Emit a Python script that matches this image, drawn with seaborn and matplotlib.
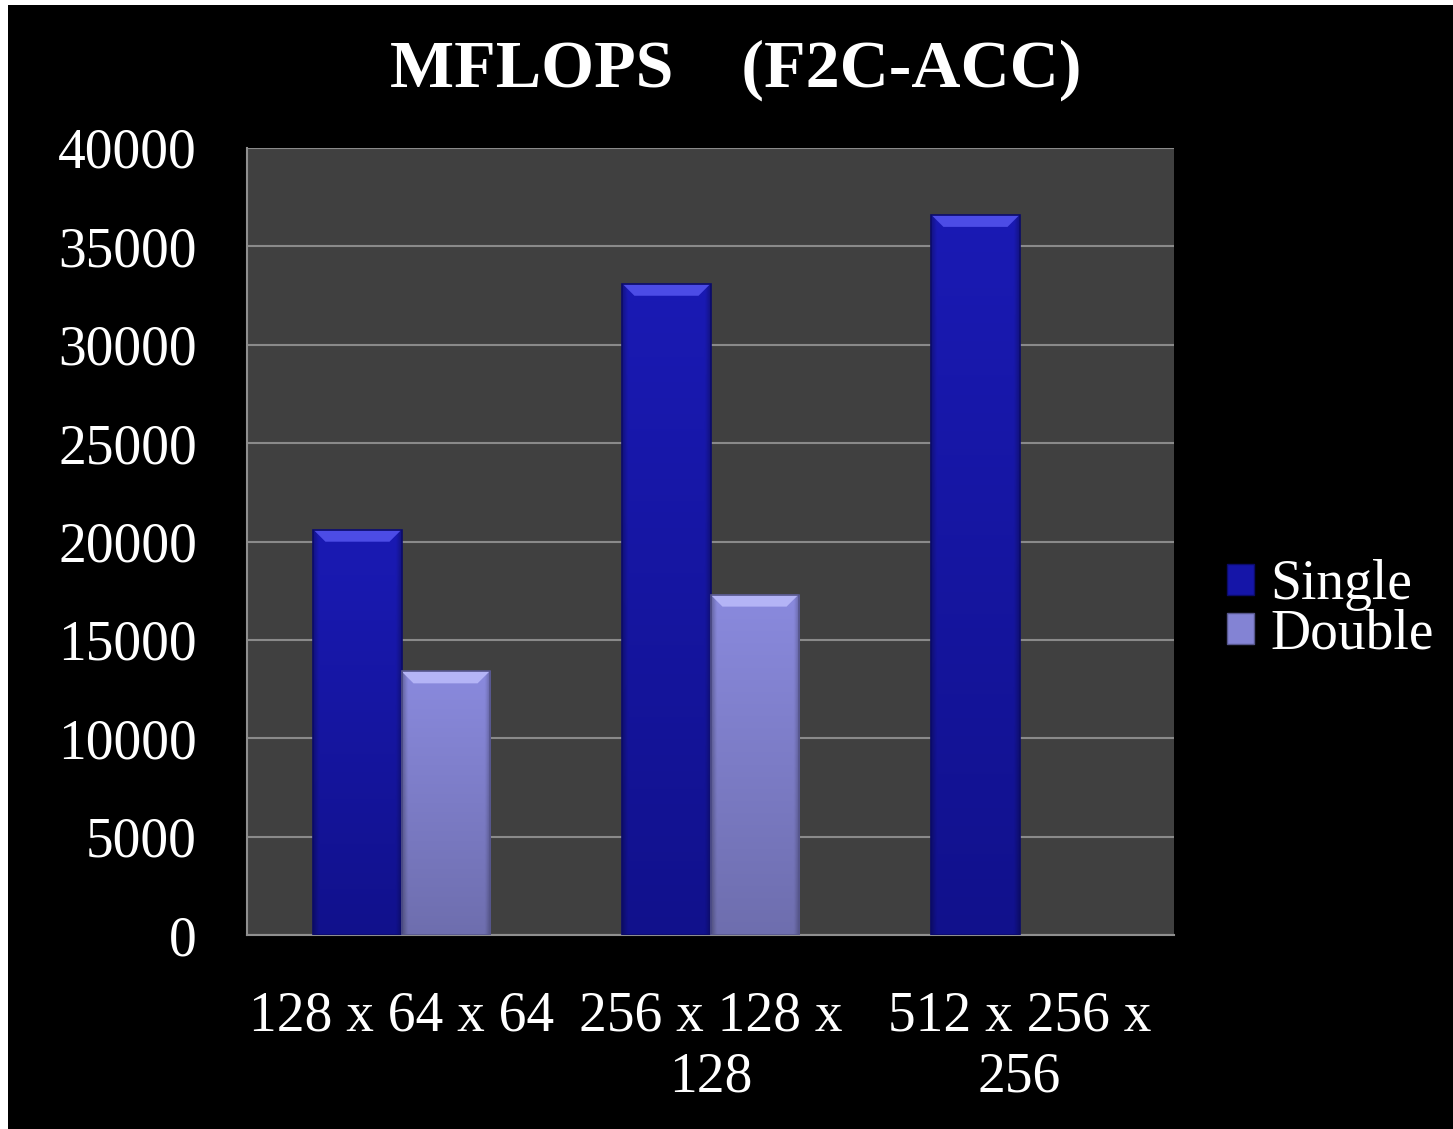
import numpy as np
import pandas as pd
import matplotlib
matplotlib.use("Agg")
import matplotlib.pyplot as plt
from matplotlib.patches import Rectangle, Polygon, Patch
import matplotlib.colors as mcolors
import seaborn as sns

# Data
categories = ["128 x 64 x 64", "256 x 128 x\n128", "512 x 256 x\n256"]
single = [20600, 33100, 36600]
double = [13400, 17300, None]
series = ["Single", "Double"]
yticks = [0, 5000, 10000, 15000, 20000, 25000, 30000, 35000, 40000]

rows = []
for cat, s, d in zip(categories, single, double):
    rows.append({"size": cat, "precision": "Single", "mflops": s})
    if d is not None:
        rows.append({"size": cat, "precision": "Double", "mflops": d})
df = pd.DataFrame(rows)

sns.set_theme(style="dark")
plt.rcParams["font.family"] = ["Liberation Serif", "DejaVu Serif"]

W, H, DPI = 14.53, 11.29, 100
fig = plt.figure(figsize=(W, H), dpi=DPI, facecolor="white")
# black slide background with thin white margin on the left/top
fig.patches.append(Rectangle((8 / 1453, 0), 1, 1124 / 1129, transform=fig.transFigure,
                             facecolor="black", edgecolor="none", zorder=-10))

ax = fig.add_axes([247 / 1453, 194 / 1129, 927 / 1453, 787 / 1129])
ax.set_facecolor("#404040")

colors = {"Single": "#1515A8", "Double": "#8383D4"}
sns.barplot(data=df, x="size", y="mflops", hue="precision", hue_order=series,
            order=categories, palette=colors, width=0.57, saturation=1,
            edgecolor="none", linewidth=0, ax=ax, legend=False, zorder=3)

ax.set_xlim(-0.5, 2.5)
ax.set_ylim(0, 40000)
ax.set_yticks(yticks)
ax.set_yticklabels([str(t) for t in yticks])
ax.grid(axis="y", color="#8a8a8a", linewidth=1.5, zorder=0)
ax.grid(axis="x", visible=False)
ax.set_axisbelow(True)
ax.set_xlabel("")
ax.set_ylabel("")
ax.tick_params(axis="y", length=0, pad=36, labelsize=40, labelcolor="white")
ax.tick_params(axis="x", length=0, pad=40, labelsize=40, labelcolor="white")
for lbl in ax.get_xticklabels():
    lbl.set_linespacing(1.22)
for side in ["top", "right"]:
    ax.spines[side].set_visible(False)
for side in ["left", "bottom"]:
    ax.spines[side].set_color("#8f8f8f")
    ax.spines[side].set_linewidth(1.5)

# Glassy shading for each bar: vertical gradient, darker edges, bevelled top
shades = {
    "Single": dict(top="#1a1ab4", bottom="#11118c", bevel="#4c4ce6", edge="#0b0b6a"),
    "Double": dict(top="#8a8ade", bottom="#6e6eae", bevel="#b4b4f6", edge="#56568c"),
}
ax_w_px = 927
ax_h_px = 787
px_x = 3.0 / ax_w_px
px_y = 40000.0 / ax_h_px

bars = [p for p in ax.patches if np.isfinite(p.get_height()) and p.get_height() > 0]
for p in bars:
    fc = mcolors.to_hex(p.get_facecolor()[:3])
    name = "Single" if fc.lower() == colors["Single"].lower() else "Double"
    sh = shades[name]
    x, y, w, h = p.get_x(), p.get_y(), p.get_width(), p.get_height()
    ny, nx = 200, 60
    t = np.linspace(0, 1, ny)[:, None]
    c_top = np.array(mcolors.to_rgb(sh["top"]))
    c_bot = np.array(mcolors.to_rgb(sh["bottom"]))
    img = c_bot[None, None, :] * (1 - t[..., None]) + c_top[None, None, :] * t[..., None]
    img = np.repeat(img, nx, axis=1)
    u = np.linspace(0, 1, nx)
    edge = np.clip(np.minimum(u, 1 - u) / 0.06, 0, 1)
    fac = 0.75 + 0.25 * edge
    img = img * fac[None, :, None]
    im = ax.imshow(img, extent=[x, x + w, y, y + h], origin="lower",
                   aspect="auto", zorder=3.5, interpolation="bilinear")
    im.set_clip_path(p)
    # top bevel
    dx = 12 * px_x
    dy = 12 * px_y
    top = y + h
    ax.add_patch(Polygon([(x, top), (x + w, top), (x + w - dx, top - dy), (x + dx, top - dy)],
                         closed=True, facecolor=sh["bevel"], edgecolor="none", zorder=4))
    # thin dark outline
    ax.add_patch(Rectangle((x, y), w, h, facecolor="none", edgecolor=sh["edge"],
                           linewidth=1.2, zorder=4.2))

ax.set_xlim(-0.5, 2.5)
ax.set_ylim(0, 40000)

fig.text(736 / 1453, 1 - 70 / 1129, "MFLOPS    (F2C-ACC)", color="white",
         fontsize=49, fontweight="bold", ha="center", va="center")

handles = [Patch(facecolor=colors[s], edgecolor=shades[s]["edge"]) for s in series]
leg = fig.legend(handles, series, loc="center left",
                 bbox_to_anchor=(1227 / 1453, 1 - 610 / 1129),
                 frameon=False, fontsize=40, labelcolor="white",
                 handlelength=0.48, handleheight=0.48, handletextpad=0.3,
                 labelspacing=-0.05, borderpad=0, borderaxespad=0)

fig.savefig("out.png", dpi=DPI, facecolor=fig.get_facecolor())
